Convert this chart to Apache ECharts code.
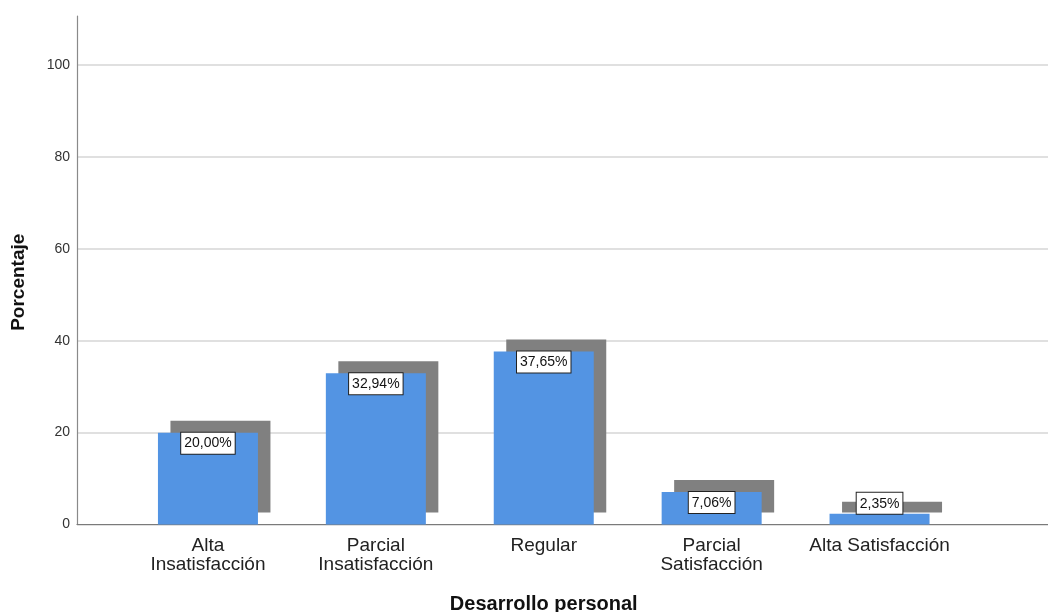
<!DOCTYPE html>
<html>
<head>
<meta charset="utf-8">
<script src="https://cdn.jsdelivr.net/npm/echarts@6/dist/echarts.min.js"></script>
<style>
  html, body { margin: 0; padding: 0; background: #fff; }
  #chart { width: 1048px; height: 612px; }
</style>
</head>
<body>
<div id="chart"></div>
<script>
// Categories and percentages for "Desarrollo personal"
const categories = ['Alta\nInsatisfacción', 'Parcial\nInsatisfacción', 'Regular', 'Parcial\nSatisfacción', 'Alta Satisfacción'];
const percentages = [20.00, 32.94, 37.65, 7.06, 2.35];
const yTicks = [0, 20, 40, 60, 80, 100];

const FONT = "'Liberation Sans', Arial, sans-serif";
const Y_MAX = 110.7;

// bars too short to hold their value box get it on top instead
const barData = percentages.map(v => ({
  value: v,
  label: v < 5 ? { position: 'top', distance: 0 } : undefined
}));

const chart = echarts.init(document.getElementById('chart'), null, { renderer: 'canvas' });

chart.setOption({
  animation: false,
  backgroundColor: '#ffffff',
  grid: [
    // full frame: y axis, gridlines and baseline
    { left: 77, right: 0, top: 16, bottom: 87.5, outerBoundsMode: 'none', containLabel: false },
    // inner band where the category bars sit
    { left: 124, right: 84.5, top: 16, bottom: 87.5, outerBoundsMode: 'none', containLabel: false }
  ],
  xAxis: [
    {
      gridIndex: 0, type: 'value', min: 0, max: 1,
      axisLine: { show: true, onZero: false, lineStyle: { color: '#7a7a7a', width: 1.2 } },
      axisTick: { show: false }, axisLabel: { show: false }, splitLine: { show: false }
    },
    {
      gridIndex: 1, type: 'category', data: categories,
      axisLine: { show: false }, axisTick: { show: false },
      axisLabel: {
        interval: 0, margin: 12, color: '#222', fontFamily: FONT,
        fontSize: 19, lineHeight: 19, align: 'center'
      },
      name: 'Desarrollo personal', nameLocation: 'middle', nameGap: 70,
      nameTextStyle: { fontFamily: FONT, fontWeight: 'bold', fontSize: 20, color: '#111' }
    }
  ],
  yAxis: [
    {
      gridIndex: 0, type: 'value', min: 0, max: Y_MAX, interval: 20,
      axisLine: { show: true, lineStyle: { color: '#8a8a8a', width: 1.2 } },
      axisTick: { show: false },
      axisLabel: {
        margin: 7, color: '#333', fontFamily: FONT, fontSize: 14, showMaxLabel: false,
        formatter: v => (yTicks.indexOf(v) >= 0 ? String(v) : '')
      },
      splitLine: { show: true, showMaxLine: false, lineStyle: { color: '#d6d6d6', width: 1.5 } },
      name: 'Porcentaje', nameLocation: 'middle', nameGap: 49,
      nameTextStyle: { fontFamily: FONT, fontWeight: 'bold', fontSize: 19, color: '#111', padding: [0, 24, 0, 0] }
    },
    {
      gridIndex: 1, type: 'value', min: 0, max: Y_MAX, show: false
    }
  ],
  series: [
    {
      type: 'bar',
      xAxisIndex: 1, yAxisIndex: 1,
      data: barData,
      barWidth: 100,
      itemStyle: {
        color: '#5394e3',
        shadowColor: '#808080',
        shadowBlur: 0,
        shadowOffsetX: 12.5,
        shadowOffsetY: -12
      },
      label: {
        show: true,
        position: 'insideTop',
        distance: 0,
        formatter: p => p.value.toFixed(2).replace('.', ',') + '%',
        fontFamily: FONT, fontSize: 14, color: '#111',
        backgroundColor: '#ffffff',
        borderColor: '#222', borderWidth: 1,
        padding: [4, 3, 3, 3]
      }
    }
  ]
});
</script>
</body>
</html>
